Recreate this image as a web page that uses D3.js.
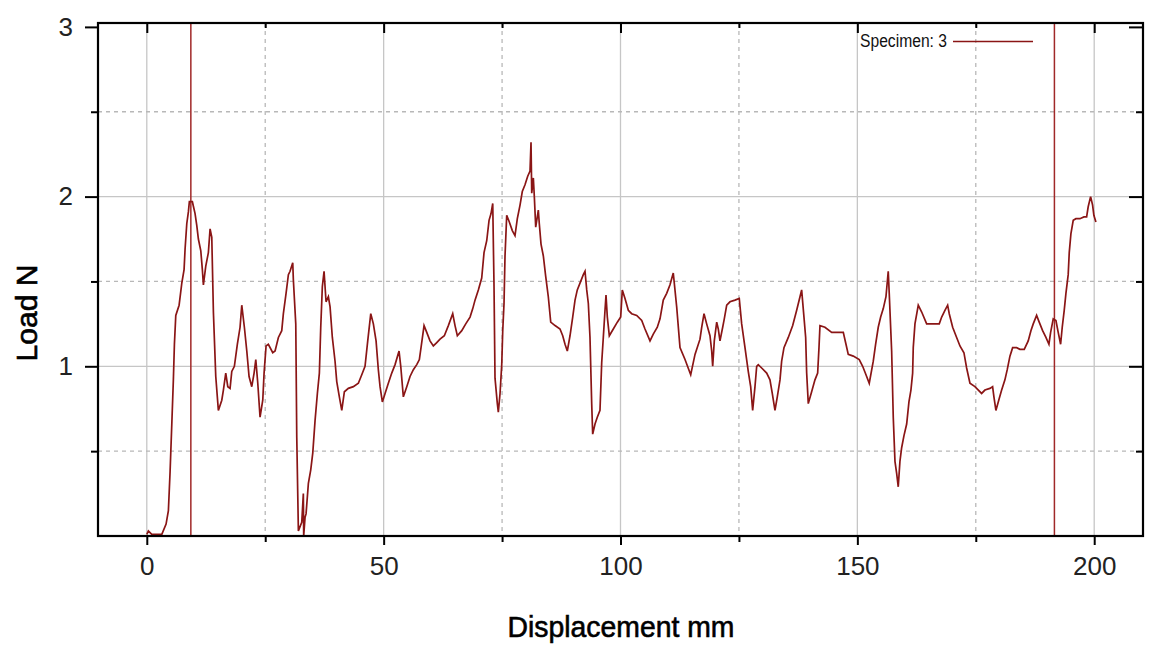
<!DOCTYPE html>
<html>
<head>
<meta charset="utf-8">
<script src="https://cdn.jsdelivr.net/npm/d3@7"></script>
<style>
  html, body { margin: 0; padding: 0; background: #fff; }
  svg { display: block; }
</style>
</head>
<body>
<svg id="chart" width="1152" height="648"></svg>
<script>
// ---- data ----
const displacement = [0,0.34,1.06,3.17,4.07,4.56,4.92,5.28,5.61,5.83,6.12,6.82,7.39,7.87,8.08,8.44,8.78,8.99,9.62,10.19,10.55,10.89,11.40,11.73,11.95,12.45,13.00,13.36,13.72,14.06,14.56,15.11,15.83,16.17,16.67,17.10,17.58,17.94,18.49,19.12,19.69,20.05,20.60,21.11,21.59,22.16,22.65,23.01,23.43,23.91,24.48,24.76,25.18,25.66,26.59,27.08,27.78,28.49,28.83,29.40,29.89,30.24,30.81,30.94,31.45,31.66,32.00,32.71,33.05,33.12,33.41,33.62,34.11,34.61,35.04,35.52,36.01,36.43,36.72,37.06,37.42,37.84,38.33,38.69,39.17,39.74,40.10,40.65,41.16,41.71,42.55,43.61,44.66,45.38,46.07,46.64,47.28,47.83,48.40,48.88,49.24,49.73,50.30,50.99,51.71,52.41,53.25,53.61,54.16,54.88,55.57,56.27,56.99,57.54,57.89,58.53,59.10,59.79,60.49,61.21,61.90,62.81,63.66,64.58,65.07,65.56,66.49,67.33,68.24,68.81,69.29,69.99,70.70,71.19,71.76,72.25,72.67,73.03,73.30,73.51,74.00,74.21,74.57,74.93,75.14,75.41,75.62,75.98,76.53,77.16,77.73,78.22,78.79,79.27,79.84,80.41,80.90,81.11,81.26,81.60,81.81,82.10,82.44,82.65,82.86,83.22,83.71,84.21,84.76,85.27,86.18,87.23,87.80,88.29,88.77,89.34,89.91,90.40,90.88,91.45,92.15,92.51,92.87,93.21,93.56,93.92,94.13,94.62,95.10,95.67,96.03,96.37,96.73,96.94,97.22,97.64,98.48,99.33,100.04,100.38,100.95,101.65,102.36,103.42,104.48,105.17,106.23,106.92,107.77,108.34,109.03,109.75,110.45,111.14,111.86,112.56,113.62,114.82,115.73,116.78,117.14,117.63,118.19,118.89,119.25,119.46,119.80,120.31,120.64,121.00,121.57,121.91,122.42,123.11,124.17,125.07,125.58,126.28,126.97,127.48,127.90,128.39,128.75,129.08,129.80,130.86,131.55,132.04,132.61,133.10,133.67,134.02,134.51,135.42,136.35,137.19,137.89,138.24,138.73,139.09,139.30,139.64,140.35,141.05,141.62,141.90,142.11,143.16,144.58,145.63,147.03,147.60,148.08,149.14,150.40,151.12,151.82,152.51,153.36,153.86,154.41,154.92,155.47,156.04,156.52,156.73,157.24,157.58,157.94,158.29,158.63,158.99,159.35,159.83,160.41,160.89,161.31,161.67,161.80,162.16,162.86,163.58,164.63,166.02,167.29,167.80,168.49,169.06,169.40,170.12,170.96,171.66,172.50,173.07,173.77,174.82,176.23,176.93,177.98,178.55,178.83,179.25,179.95,180.46,181.15,181.64,182.21,182.78,183.62,184.32,185.23,186.07,186.64,187.13,187.84,188.39,189.11,189.81,190.44,190.80,191.35,191.92,192.40,192.91,193.25,193.67,194.03,194.51,194.73,195.08,195.57,196.14,196.98,197.83,198.40,198.73,199.24,199.66,199.93,200.36];
const load = [0.01,0.03,0.01,0.01,0.07,0.15,0.38,0.66,0.92,1.13,1.30,1.36,1.49,1.57,1.69,1.84,1.91,1.97,1.97,1.90,1.83,1.75,1.68,1.57,1.48,1.59,1.67,1.81,1.76,1.32,0.94,0.74,0.80,0.86,0.96,0.88,0.87,0.97,1.00,1.13,1.23,1.36,1.23,1.09,0.94,0.88,0.96,1.04,0.90,0.70,0.80,0.96,1.12,1.13,1.08,1.09,1.17,1.21,1.31,1.43,1.54,1.56,1.61,1.51,1.25,0.58,0.03,0.08,0.25,0.00,0.11,0.13,0.31,0.39,0.49,0.68,0.84,0.96,1.23,1.47,1.56,1.38,1.41,1.35,1.17,1.03,0.91,0.82,0.74,0.85,0.87,0.88,0.90,0.95,1.00,1.15,1.31,1.25,1.15,0.98,0.88,0.79,0.84,0.90,0.96,1.01,1.09,1.00,0.82,0.88,0.94,0.98,1.01,1.04,1.11,1.24,1.20,1.15,1.12,1.14,1.16,1.18,1.24,1.31,1.24,1.18,1.21,1.25,1.29,1.34,1.39,1.45,1.52,1.67,1.74,1.86,1.90,1.96,1.47,0.93,0.78,0.73,0.84,1.01,1.21,1.37,1.65,1.89,1.85,1.80,1.77,1.87,1.95,2.03,2.07,2.12,2.15,2.32,2.02,2.11,2.00,1.82,1.88,1.92,1.84,1.72,1.65,1.53,1.41,1.26,1.24,1.22,1.18,1.13,1.09,1.18,1.29,1.39,1.45,1.49,1.54,1.56,1.45,1.37,1.17,0.78,0.60,0.66,0.70,0.74,1.02,1.17,1.33,1.42,1.29,1.18,1.22,1.26,1.29,1.45,1.40,1.33,1.31,1.30,1.27,1.22,1.15,1.19,1.23,1.28,1.39,1.43,1.48,1.55,1.35,1.11,1.04,0.95,1.07,1.16,1.23,1.31,1.25,1.18,1.09,1.00,1.15,1.26,1.22,1.15,1.23,1.28,1.36,1.38,1.39,1.40,1.25,1.11,0.97,0.88,0.74,0.88,1.00,1.01,0.99,0.96,0.92,0.84,0.74,0.82,0.92,1.03,1.11,1.17,1.24,1.33,1.41,1.45,1.29,1.17,0.96,0.78,0.85,0.92,0.96,1.11,1.24,1.23,1.20,1.20,1.20,1.13,1.07,1.06,1.04,1.00,0.95,0.90,1.03,1.13,1.23,1.29,1.34,1.41,1.56,1.43,1.09,0.70,0.44,0.37,0.29,0.44,0.52,0.59,0.66,0.79,0.86,0.96,1.11,1.25,1.36,1.32,1.25,1.25,1.25,1.29,1.33,1.36,1.31,1.23,1.17,1.12,1.08,0.99,0.90,0.88,0.84,0.86,0.87,0.88,0.82,0.74,0.81,0.86,0.92,0.98,1.06,1.11,1.11,1.10,1.10,1.15,1.21,1.25,1.30,1.26,1.21,1.17,1.13,1.20,1.28,1.27,1.20,1.13,1.23,1.33,1.43,1.54,1.67,1.78,1.86,1.87,1.87,1.88,1.88,1.94,2.00,1.95,1.89,1.85];
const markerPositions = [9.3, 191.6];
const xMajorTicks = [0, 50, 100, 150, 200];
const xMinorTicks = [25, 75, 125, 175];
const yMajorTicks = [1, 2, 3];
const yMinorTicks = [0.5, 1.5, 2.5];
const seriesName = "Specimen: 3";
const xTitle = "Displacement mm";
const yTitle = "Load N";

// ---- layout ----
const L = 98, R = 1143, T = 23, B = 536;
const svg = d3.select("#chart");
const x = d3.scaleLinear().domain([-10.3, 210.3]).range([L, R]);
const y = d3.scaleLinear().domain([0, 3.023]).range([B, T]);
const red = "#8a1515";

// grid
const grid = svg.append("g");
grid.selectAll(".vmaj").data(xMajorTicks).join("line")
  .attr("x1", d => x(d)).attr("x2", d => x(d)).attr("y1", T).attr("y2", B)
  .attr("stroke", "#c6c6c6").attr("stroke-width", 1.3);
grid.selectAll(".vmin").data(xMinorTicks).join("line")
  .attr("x1", d => x(d)).attr("x2", d => x(d)).attr("y1", T).attr("y2", B)
  .attr("stroke", "#b8b8b8").attr("stroke-width", 1.3).attr("stroke-dasharray", "4,4");
grid.selectAll(".hmaj").data(yMajorTicks.filter(d => d < 3)).join("line")
  .attr("x1", L).attr("x2", R).attr("y1", d => y(d)).attr("y2", d => y(d))
  .attr("stroke", "#c6c6c6").attr("stroke-width", 1.3);
grid.selectAll(".hmin").data(yMinorTicks).join("line")
  .attr("x1", L).attr("x2", R).attr("y1", d => y(d)).attr("y2", d => y(d))
  .attr("stroke", "#b8b8b8").attr("stroke-width", 1.3).attr("stroke-dasharray", "4,4");

// axes (ticks) via d3 axes
function styleAxis(g) {
  g.select(".domain").remove();
  g.selectAll(".tick line").attr("stroke", "#000").attr("stroke-width", 2);
}
const tickFont = "'Liberation Sans Narrow', 'Arial Narrow', 'Liberation Sans', sans-serif";

svg.append("g").attr("transform", `translate(0,${B})`)
  .call(d3.axisBottom(x).tickValues(xMajorTicks).tickSize(9).tickPadding(12).tickFormat(d3.format("d")))
  .call(styleAxis)
  .call(g => g.selectAll("text").attr("font-family", tickFont).attr("font-size", 26).attr("fill", "#222"));
svg.append("g").attr("transform", `translate(0,${B})`)
  .call(d3.axisBottom(x).tickValues(xMinorTicks).tickSize(6).tickFormat(""))
  .call(styleAxis);
svg.append("g").attr("transform", `translate(0,${T})`)
  .call(d3.axisBottom(x).tickValues(xMajorTicks).tickSize(10).tickFormat(""))
  .call(styleAxis);
svg.append("g").attr("transform", `translate(0,${T})`)
  .call(d3.axisBottom(x).tickValues(xMinorTicks).tickSize(5).tickFormat(""))
  .call(styleAxis);

svg.append("g").attr("transform", `translate(${L},0)`)
  .call(d3.axisLeft(y).tickValues(yMajorTicks).tickSize(13).tickPadding(12).tickFormat(d3.format("d")))
  .call(styleAxis)
  .call(g => g.selectAll("text").attr("font-family", tickFont).attr("font-size", 26).attr("fill", "#222"));
svg.append("g").attr("transform", `translate(${L},0)`)
  .call(d3.axisLeft(y).tickValues(yMinorTicks).tickSize(7).tickFormat(""))
  .call(styleAxis);
svg.append("g").attr("transform", `translate(${R},0)`)
  .call(d3.axisLeft(y).tickValues(yMajorTicks).tickSize(14).tickFormat(""))
  .call(styleAxis);
svg.append("g").attr("transform", `translate(${R},0)`)
  .call(d3.axisLeft(y).tickValues(yMinorTicks).tickSize(7).tickFormat(""))
  .call(styleAxis);

// marker lines
svg.append("g").selectAll("line").data(markerPositions).join("line")
  .attr("x1", d => x(d)).attr("x2", d => x(d)).attr("y1", T).attr("y2", B)
  .attr("stroke", "#a02828").attr("stroke-width", 1.5);

// data line
const pts = displacement.map((d, i) => [d, load[i]]);
svg.append("path").datum(pts)
  .attr("fill", "none").attr("stroke", red).attr("stroke-width", 1.7)
  .attr("stroke-linejoin", "miter")
  .attr("d", d3.line().x(d => x(d[0])).y(d => y(d[1])));

// frame
svg.append("rect").attr("x", L).attr("y", T).attr("width", R - L).attr("height", B - T)
  .attr("fill", "none").attr("stroke", "#000").attr("stroke-width", 2.2);

// legend
svg.append("text").attr("x", 860).attr("y", 47)
  .attr("font-family", tickFont).attr("font-size", 18).attr("fill", "#111")
  .attr("textLength", 87).attr("lengthAdjust", "spacingAndGlyphs")
  .text(seriesName);
svg.append("line").attr("x1", 953).attr("x2", 1033).attr("y1", 41.5).attr("y2", 41.5)
  .attr("stroke", red).attr("stroke-width", 1.7);

// titles
const titleFont = "'Liberation Sans', Arial, sans-serif";
svg.append("text").attr("x", 621).attr("y", 637).attr("text-anchor", "middle")
  .attr("font-family", titleFont).attr("font-size", 30).attr("fill", "#000")
  .attr("stroke", "#000").attr("stroke-width", 0.6)
  .attr("textLength", 227).attr("lengthAdjust", "spacingAndGlyphs")
  .text(xTitle);
svg.append("text").attr("transform", "translate(37,313) rotate(-90)").attr("text-anchor", "middle")
  .attr("font-family", titleFont).attr("font-size", 30).attr("fill", "#000")
  .attr("stroke", "#000").attr("stroke-width", 0.6)
  .text(yTitle);
</script>
</body>
</html>
